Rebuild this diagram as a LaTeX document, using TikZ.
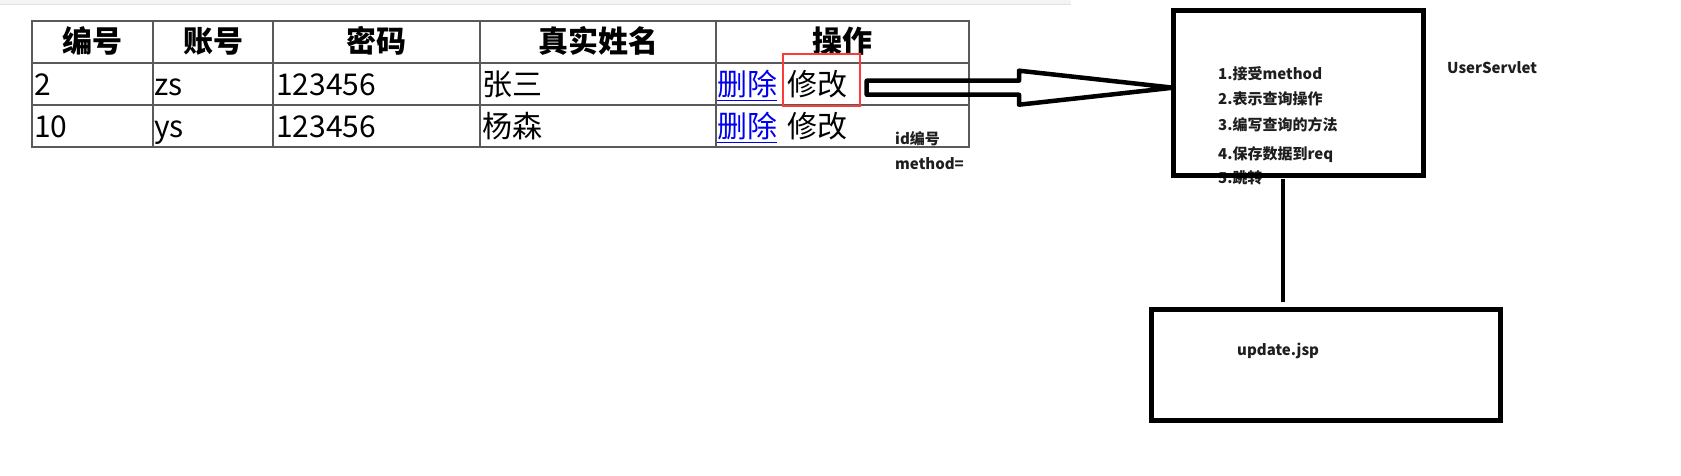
\documentclass[tikz,border=0pt]{standalone}
\usepackage{fontspec}
\setmainfont{Noto Sans CJK SC}
\usepackage{tikz}
\usetikzlibrary{calc}
\definecolor{tblgray}{RGB}{90, 90, 90}
\definecolor{markred}{RGB}{250, 60, 60}
\definecolor{linkblue}{RGB}{0, 0, 238}
\definecolor{barbg}{RGB}{244, 244, 244}
\definecolor{barline}{RGB}{226, 226, 226}
\definecolor{notegray}{RGB}{30, 30, 30}

\begin{document}
\begin{tikzpicture}[x=1pt, y=-1pt,
        hdr/.style={font=\fontsize{30}{36}\selectfont\bfseries, anchor=base, inner sep=0pt},
        cell/.style={font=\fontsize{30}{36}\selectfont, anchor=base west, inner sep=0pt},
        lnk/.style={cell, text=linkblue},
        note/.style={font=\fontsize{15}{18}\selectfont\bfseries, anchor=base west, inner sep=0pt, text=notegray},
        tblline/.style={draw=tblgray, line width=1.5pt},
        markbox/.style={rectangle, draw=markred, line width=2pt, minimum width=76.4pt, minimum height=52pt, outer sep=0pt},
        thickbox/.style={rectangle, draw, line width=5pt, outer sep=0pt},
        fatarrow/.style={draw, line width=4.5pt, line join=round},
        conn/.style={draw, line width=4.5pt}
    ]
        \useasboundingbox (0,0) rectangle (1681,476);
        \fill[barbg] (0,0) rectangle (1071,4);
        \draw[barline, line width=1pt] (0,4.5) -- (1071,4.5);

        % table
        \draw[tblline] (32,21) rectangle (969,147);
        \draw[tblline] (32,63) -- (969,63);
        \draw[tblline] (32,105) -- (969,105);
        \draw[tblline] (153,21) -- (153,147);
        \draw[tblline] (273,21) -- (273,147);
        \draw[tblline] (480,21) -- (480,147);
        \draw[tblline] (716,21) -- (716,147);

        \node[hdr] (hNo) at (92.5,53) {编号};
        \node[hdr] (hAcct) at (213,53) {账号};
        \node[hdr] (hPwd) at (376.5,53) {密码};
        \node[hdr] (hName) at (598,53) {真实姓名};
        \node[hdr] (hOp) at (842.5,53) {操作};

        \node[cell] (aNo) at (34,96) {2};
        \node[cell] (aAcct) at (154,96) {zs};
        \node[cell] (aPwd) at (276,96) {123456};
        \node[cell] (aName) at (482,96) {张三};
        \node[lnk] (aDel) at (717,96) {\underline{删除}};
        \node[cell] (aEdit) at (787,96) {修改};

        \node[cell] (bNo) at (34,138) {10};
        \node[cell] (bAcct) at (154,138) {ys};
        \node[cell] (bPwd) at (276,138) {123456};
        \node[cell] (bName) at (482,138) {杨森};
        \node[lnk] (bDel) at (717,138) {\underline{删除}};
        \node[cell] (bEdit) at (787,138) {修改};

        \node[markbox] (markbox) at (821.5,79.7) {};

        \node[note] (idnote) at (895,145) {id编号};
        \node[note] (methodnote) at (895,169) {method=};

        % servlet steps
        \node[note] (step1) at (1218,80) {1.接受method};
        \node[note] (step2) at (1218,105) {2.表示查询操作};
        \node[note] (step3) at (1218,131) {3.编写查询的方法};
        \node[note] (step4) at (1218,160) {4.保存数据到req};
        \node[note] (step5) at (1218,183) {5.跳转};
        \node[thickbox, minimum width=250pt, minimum height=164.5pt] (servlet) at (1298,93.25) {};
        \node[note] (servletname) at (1447,74) {UserServlet};

        \node[thickbox, minimum width=348.5pt, minimum height=111pt] (jsp) at (1325.75,365) {};
        \node[note] (jspname) at (1237,355) {update.jsp};

        % fat arrow
        \coordinate (tail) at ($(markbox.east)+(7,8)$);
        \coordinate (tip) at (tail -| servlet.west);
        \draw[fatarrow] ($(tail)+(0,-7)$) -- ($(tip)+(-154,-7)$) -- ($(tip)+(-154,-17)$) -- (tip)
            -- ($(tip)+(-154,17)$) -- ($(tip)+(-154,7)$) -- ($(tail)+(0,7)$) -- cycle;
        \draw[conn, shorten <=3.5pt, shorten >=7.5pt] ([xshift=-15pt]servlet.south) -- ([xshift=-15pt]servlet.south |- jsp.north);
    \end{tikzpicture}
\end{document}
